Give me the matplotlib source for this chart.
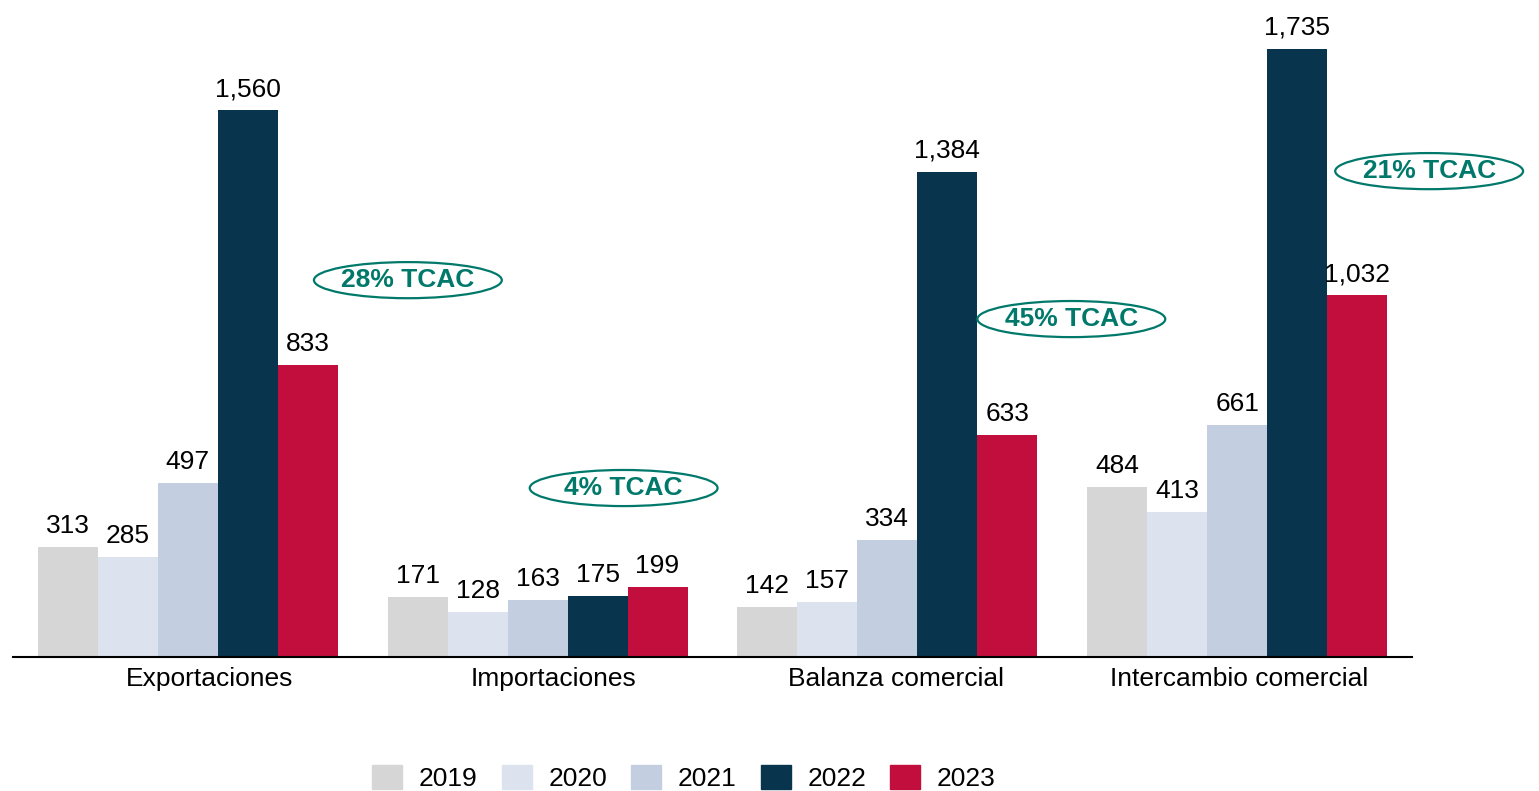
import matplotlib
matplotlib.use("Agg")
import matplotlib.pyplot as plt
import numpy as np
from matplotlib.patches import Ellipse, Patch

plt.rcParams["font.family"] = ["Liberation Sans", "DejaVu Sans"]

categories = ["Exportaciones", "Importaciones", "Balanza comercial", "Intercambio comercial"]
years = ["2019", "2020", "2021", "2022", "2023"]
v2019 = [313, 171, 142, 484]
v2020 = [285, 128, 157, 413]
v2021 = [497, 163, 334, 661]
v2022 = [1560, 175, 1384, 1735]
v2023 = [833, 199, 633, 1032]
tcac_labels = ["28% TCAC", "4% TCAC", "45% TCAC", "21% TCAC"]

COLORS = ["#D6D6D6", "#DDE3EE", "#C3CEE0", "#08344E", "#C20E3D"]
TEAL = "#00796B"
FS = 19

fig = plt.figure(figsize=(15.39, 7.91), dpi=100)
ax = fig.add_axes([13 / 1539, 1 - 657 / 791, 1399 / 1539, (657 - 26) / 791])

x = np.arange(len(categories))
w = 60 / 350
series = [v2019, v2020, v2021, v2022, v2023]
for i, (vals, col, yr) in enumerate(zip(series, COLORS, years)):
    pos = x + (i - 2) * w
    ax.bar(pos, vals, width=w, color=col, label=yr)
    for px, v in zip(pos, vals):
        ax.text(px, v + 26, f"{v:,}", ha="center", va="bottom", fontsize=FS)

# TCAC callouts (x in category units, y in data units)
tcac_pos = [(0.629, 1075), (1.246, 482), (2.526, 964), (3.549, 1386)]
for (cx, cy), lab in zip(tcac_pos, tcac_labels):
    ax.add_patch(Ellipse((cx, cy), 188 / 350, 103, fill=False, ec=TEAL, lw=1.6,
                         clip_on=False))
    ax.text(cx, cy, lab, ha="center", va="center", fontsize=FS, fontweight="bold",
            color=TEAL, clip_on=False)

ax.set_xlim(-0.5, 3.5)
ax.set_ylim(0, 1800)
# category labels in the original sit slightly right of the bar groups
label_shift = np.array([22, 16, 9, 2]) / 350
ax.set_xticks(x + label_shift)
ax.set_xticklabels(categories, fontsize=FS)
ax.tick_params(axis="x", length=0, pad=7)
ax.set_yticks([])
for s in ["top", "right", "left"]:
    ax.spines[s].set_visible(False)
ax.spines["bottom"].set_linewidth(1.5)

handles = [Patch(color=c, label=y) for c, y in zip(COLORS, years)]
fig.legend(handles=handles, loc="center", bbox_to_anchor=(684 / 1539, 1 - 778 / 791),
           ncol=5, frameon=False, fontsize=FS, handlelength=1.14, handleheight=1.06,
           columnspacing=0.9, handletextpad=0.64)

fig.savefig("out.png", dpi=100)
